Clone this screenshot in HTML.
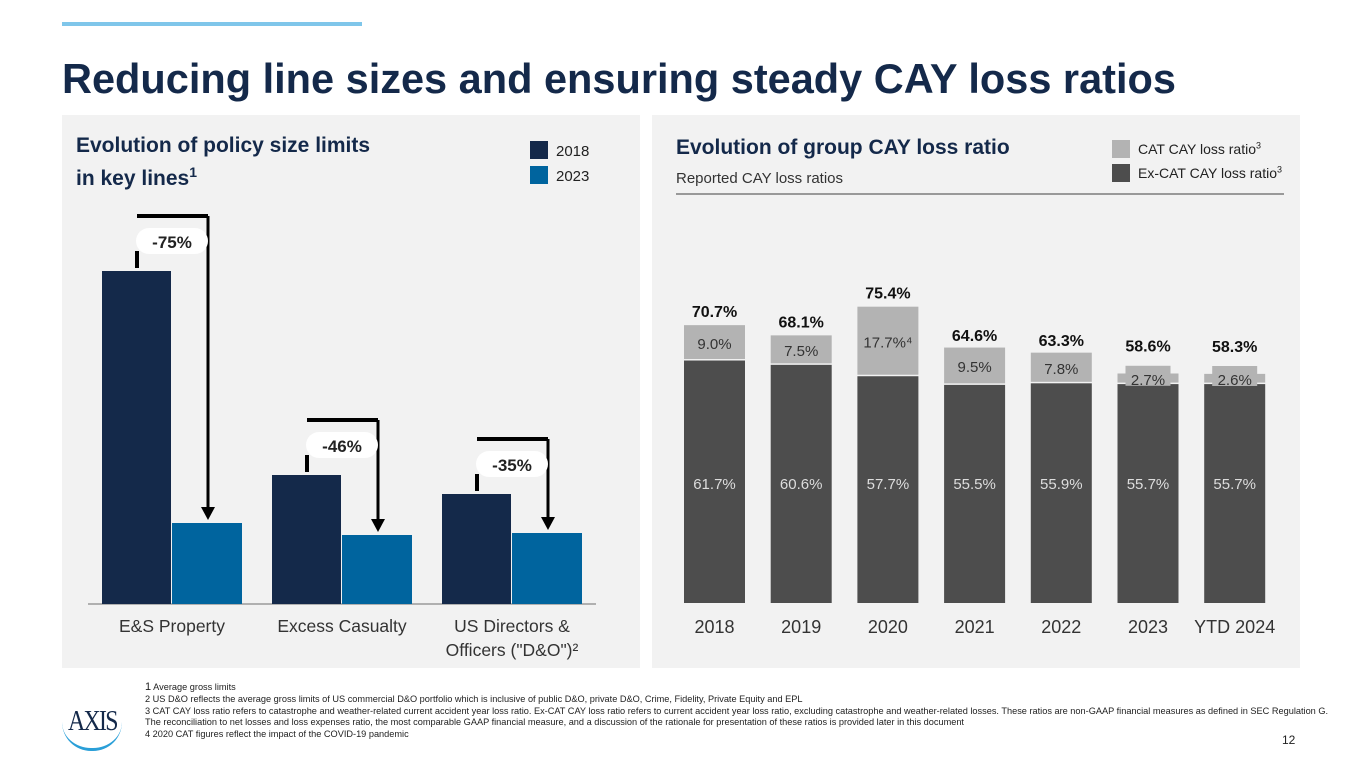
<!DOCTYPE html>
<html><head><meta charset="utf-8"><style>
body{margin:0;width:1365px;height:768px;background:#fff;font-family:"Liberation Sans",sans-serif;position:relative;overflow:hidden}
.a{position:absolute}
</style></head><body>
<div class="a" style="left:62px;top:22px;width:300px;height:4px;background:#7fc6ea"></div>
<div class="a" style="left:62px;top:55px;font-size:41.5px;font-weight:bold;color:#14294a">Reducing line sizes and ensuring steady CAY loss ratios</div>
<div class="a" style="left:62px;top:115px;width:578px;height:553px;background:#f2f2f2"></div>
<div class="a" style="left:652px;top:115px;width:648px;height:553px;background:#f2f2f2"></div>
<div class="a" style="left:76px;top:132px;font-size:21px;font-weight:bold;color:#14294a;line-height:27px">Evolution of policy size limits<br>in key lines<sup style="font-size:14px">1</sup></div>
<div class="a" style="left:530px;top:141px;font-size:15px;color:#222"><span style="display:inline-block;width:18px;height:18px;background:#14294a;vertical-align:-3px;margin-right:8px"></span>2018</div>
<div class="a" style="left:530px;top:166px;font-size:15px;color:#222"><span style="display:inline-block;width:18px;height:18px;background:#00649e;vertical-align:-3px;margin-right:8px"></span>2023</div>
<div class="a" style="left:676px;top:136px;font-size:21px;font-weight:bold;color:#14294a">Evolution of group CAY loss ratio</div>
<div class="a" style="left:676px;top:170px;font-size:15px;color:#333">Reported CAY loss ratios</div>
<div class="a" style="left:676px;top:193px;width:608px;height:2px;background:#999"></div>
<div class="a" style="left:1112px;top:140px;font-size:14px;color:#222"><span style="display:inline-block;width:18px;height:18px;background:#b3b3b3;vertical-align:-4px;margin-right:8px"></span>CAT CAY loss ratio<sup style="font-size:9px">3</sup></div>
<div class="a" style="left:1112px;top:164px;font-size:14px;color:#222"><span style="display:inline-block;width:18px;height:18px;background:#4d4d4d;vertical-align:-4px;margin-right:8px"></span>Ex-CAT CAY loss ratio<sup style="font-size:9px">3</sup></div>
<svg class="a" style="left:0;top:0" width="1365" height="768" id="svg"></svg>
<div class="a" style="left:145px;top:682px;font-size:9.2px;color:#222;line-height:11.8px;width:1198px"><span style="font-size:11px">1</span> Average gross limits<br>2 US D&amp;O reflects the average gross limits of US commercial D&amp;O portfolio which is inclusive of public D&amp;O, private D&amp;O, Crime, Fidelity, Private Equity and EPL<br>3 CAT CAY loss ratio refers to catastrophe and weather-related current accident year loss ratio. Ex-CAT CAY loss ratio refers to current accident year loss ratio, excluding catastrophe and weather-related losses. These ratios are non-GAAP financial measures as defined in SEC Regulation G. The reconciliation to net losses and loss expenses ratio, the most comparable GAAP financial measure, and a discussion of the rationale for presentation of these ratios is provided later in this document<br>4 2020 CAT figures reflect the impact of the COVID-19 pandemic</div>
<div class="a" style="left:68px;top:706px;font-family:'Liberation Serif',serif;font-size:28px;color:#14294a;letter-spacing:-2px;transform:scaleX(0.85);transform-origin:left">AXIS</div>
<div class="a" style="left:62px;top:722px;width:60px;height:26px;border-bottom:3px solid #2a9fd8;border-radius:0 0 40px 40px"></div>
<div class="a" style="left:1282px;top:733px;font-size:12px;color:#222">12</div>
<script>
const lines=["E&S Property","Excess Casualty","US Directors &|Officers (\"D&O\")²"];
const limits2018=[333,129,110];
const limits2023=[81,69,71];
const changes=["-75%","-46%","-35%"];
const years=["2018","2019","2020","2021","2022","2023","YTD 2024"];
const exCat=[61.7,60.6,57.7,55.5,55.9,55.7,55.7];
const cat=[9.0,7.5,17.7,9.5,7.8,2.7,2.6];
const totals=[70.7,68.1,75.4,64.6,63.3,58.6,58.3];
const svg=document.getElementById('svg');
const NS='http://www.w3.org/2000/svg';
function mk(t,a,n){const e=document.createElementNS(NS,t);for(const k in a)e.setAttribute(k,a[k]);


svg.appendChild(e);return e;}
function txt(x,y,s,a,n){const e=mk('text',Object.assign({x:x,y:y,'text-anchor':'middle','font-family':'Liberation Sans, sans-serif'},a),n);e.textContent=s;return e;}
const LB=604, lx=i=>102+i*170, ly=v=>LB-v;
mk('line',{x1:88,y1:LB,x2:596,y2:LB,stroke:'#999','stroke-width':1.5},'left-x-axis');
lines.forEach((c,i)=>{
 const x=lx(i);
 mk('rect',{x:x,y:ly(limits2018[i]),width:69,height:limits2018[i],fill:'#14294a'},'bar-2018-'+i);
 mk('rect',{x:x+70,y:ly(limits2023[i]),width:70,height:limits2023[i],fill:'#00649e'},'bar-2023-'+i);
 const top=ly(limits2018[i])-55, l=x+35, r=x+106;
 mk('line',{x1:l,y1:top,x2:r,y2:top,stroke:'#000','stroke-width':4},'change-bracket-'+i);
 mk('line',{x1:l,y1:ly(limits2018[i])-20,x2:l,y2:ly(limits2018[i])-3,stroke:'#000','stroke-width':4},'change-tick-'+i);
 mk('line',{x1:r,y1:top,x2:r,y2:ly(limits2023[i])-14,stroke:'#000','stroke-width':3},'change-arrow-'+i);
 mk('polygon',{points:`${r-7},${ly(limits2023[i])-16} ${r+7},${ly(limits2023[i])-16} ${r},${ly(limits2023[i])-3}`,fill:'#000'},'arrowhead-'+i);
 mk('rect',{x:l-1,y:top+12,width:72,height:26,rx:13,fill:'#fff'},'change-pill-'+i);
 txt(l+35,top+32,changes[i],{'font-size':17,'font-weight':'bold',fill:'#222'},'change-label-'+i);
 c.split('|').forEach((s,k)=>txt(x+70,632+k*24,s,{'font-size':17.5,fill:'#333'},'category-label-'+i));
});
const RB=603, rx=i=>684+i*86.7, ry=v=>RB-v*3.93;
years.forEach((y,i)=>{
 const x=rx(i);
 mk('rect',{x:x,y:ry(exCat[i]),width:61,height:RB-ry(exCat[i]),fill:'#4d4d4d'},'excat-bar-'+i);
 mk('rect',{x:x,y:ry(exCat[i]+cat[i]),width:61,height:ry(exCat[i])-ry(exCat[i]+cat[i])-1.5,fill:'#b3b3b3'},'cat-bar-'+i);
 const cy=(ry(exCat[i])+ry(exCat[i]+cat[i]))/2;
 if(cat[i]<4) mk('rect',{x:x+8,y:cy-13,width:45,height:20,fill:'#b3b3b3'},'cat-label-bg-'+i);
 txt(x+30.5,cy+6,cat[i].toFixed(1)+'%'+(i==2?'⁴':''),{'font-size':15,fill:'#333'},'cat-label-'+i);
 txt(x+30.5,489,exCat[i].toFixed(1)+'%',{'font-size':15,fill:'#ddd'},'excat-label-'+i);
 const ty=cat[i]<4?ry(exCat[i]+cat[i])-22:ry(totals[i])-8;
 txt(x+30.5,ty,totals[i].toFixed(1)+'%',{'font-size':16,'font-weight':'bold',fill:'#111'},'total-label-'+i);
 txt(x+30.5,633,y,{'font-size':18,fill:'#333'},'year-label-'+i);
});
</script>
</body></html>
